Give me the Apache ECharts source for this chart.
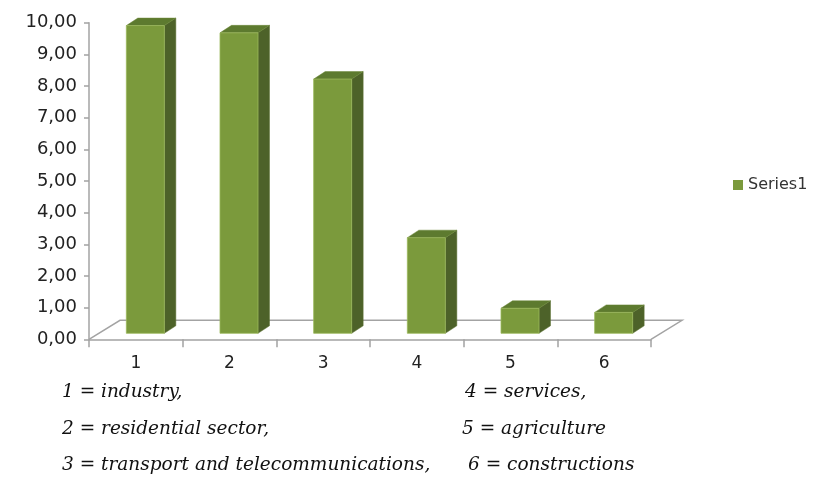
<!DOCTYPE html>
<html>
<head>
<meta charset="utf-8">
<script src="https://cdn.jsdelivr.net/npm/echarts@6/dist/echarts.min.js"></script>
<style>html,body{margin:0;padding:0;background:#fff;}#c{width:818px;height:479px;}</style>
</head>
<body>
<div id="c"></div>
<script>
const categories = ['1', '2', '3', '4', '5', '6'];
const seriesName = 'Series1';
const values = [9.72, 9.49, 8.03, 3.02, 0.79, 0.66];
const yMin = 0, yMax = 10, yStep = 1;
const captionLeft = ['1 = industry,', '2 = residential sector,', '3 = transport and telecommunications,'];
const captionRight = ['4 = services,', '5 = agriculture', '6 = constructions'];

const FRONT = '#7b9a3c', SIDE = '#4d6229', TOP = '#5d7a2f', AXIS = '#a3a3a3';

const chart = echarts.init(document.getElementById('c'), null, {renderer: 'canvas'});

function renderBar(params, api) {
  const i = api.value(0), v = api.value(1);
  const base = api.coord([i, 0]);
  const top = api.coord([i, v]);
  const dx = 9.5, dy = -6, hw = 19, ddx = 11.5, ddy = -7.5;
  const xl = base[0] + dx - hw, xr = base[0] + dx + hw;
  const yb = base[1] + dy, yt = top[1] + dy;
  const children = [];
  if (params.dataIndex === 0) {
    const cs = params.coordSys;
    const fx0 = cs.x, fx1 = cs.x + cs.width, fy = cs.y + cs.height;
    children.push({
      type: 'polyline',
      shape: {points: [[fx0, fy], [fx0 + 31, fy - 19], [fx1 + 31, fy - 19], [fx1, fy]]},
      style: {stroke: AXIS, lineWidth: 1.5, fill: null}
    });
  }
  children.push({
    type: 'polygon',
    shape: {points: [[xr, yb], [xr + ddx, yb + ddy], [xr + ddx, yt + ddy], [xr, yt]]},
    style: {fill: SIDE, stroke: '#5a7030', lineWidth: 0.5}
  });
  children.push({
    type: 'polygon',
    shape: {points: [[xl, yt], [xl + ddx, yt + ddy], [xr + ddx, yt + ddy], [xr, yt]]},
    style: {fill: TOP, stroke: '#6a8636', lineWidth: 0.5}
  });
  children.push({
    type: 'rect',
    shape: {x: xl, y: yt, width: 2 * hw, height: yb - yt},
    style: {fill: FRONT, stroke: '#9bb85c', lineWidth: 0.8}
  });
  return {type: 'group', children: children};
}

const graphics = [];
const capYs = [394, 431, 467];
const rightXs = [465, 462, 468];
const capFont = 'italic 18.5px "DejaVu Serif"';
captionLeft.forEach((t, k) => graphics.push({
  type: 'text', left: 62, top: capYs[k] - 11,
  style: {text: t, font: capFont, fill: '#111'}
}));
captionRight.forEach((t, k) => graphics.push({
  type: 'text', left: rightXs[k], top: capYs[k] - 11,
  style: {text: t, font: capFont, fill: '#111'}
}));

chart.setOption({
  animation: false,
  backgroundColor: '#fff',
  grid: {left: 89, top: 22.7, width: 562, height: 316.6, containLabel: false},
  legend: {
    data: [seriesName], orient: 'vertical', left: 728, top: 172,
    icon: 'rect', itemWidth: 10, itemHeight: 10, itemGap: 5,
    textStyle: {fontFamily: 'DejaVu Sans', fontSize: 16, color: '#333'}
  },
  xAxis: {
    type: 'category', data: categories,
    axisLine: {show: true, lineStyle: {color: AXIS, width: 1.5}},
    axisTick: {show: true, length: 8, lineStyle: {color: AXIS, width: 1.5}},
    axisLabel: {margin: 16, fontFamily: 'DejaVu Sans', fontSize: 17, color: '#222'},
    splitLine: {show: false}
  },
  yAxis: {
    type: 'value', min: yMin, max: yMax, interval: yStep,
    axisLine: {show: true, lineStyle: {color: AXIS, width: 1.5}},
    axisTick: {show: true, length: 5, lineStyle: {color: AXIS, width: 1.5}},
    axisLabel: {margin: 12, fontFamily: 'DejaVu Sans', fontSize: 18, color: '#222',
      formatter: v => v.toFixed(2).replace('.', ',')},
    splitLine: {show: false}
  },
  series: [{
    name: seriesName, type: 'custom', renderItem: renderBar,
    itemStyle: {color: FRONT},
    encode: {x: 0, y: 1},
    data: values.map((v, i) => [i, v]),
    clip: false
  }],
  graphic: graphics
});
</script>
</body>
</html>
